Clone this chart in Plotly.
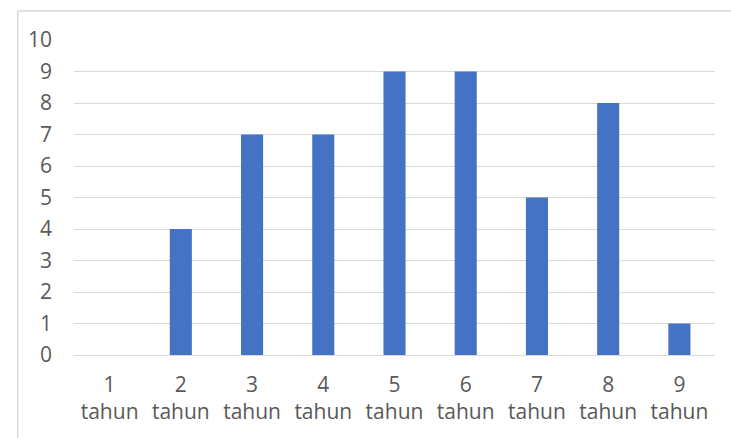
import plotly.graph_objects as go

# Respondents by length of service
categories = ["1<br>tahun", "2<br>tahun", "3<br>tahun", "4<br>tahun", "5<br>tahun",
              "6<br>tahun", "7<br>tahun", "8<br>tahun", "9<br>tahun"]
values = [0, 4, 7, 7, 9, 9, 5, 8, 1]
y_ticks = list(range(0, 11))

BAR_COLOR = "#4472C4"
TEXT_COLOR = "#595959"
GRID_COLOR = "#D9D9D9"
FONT = "Open Sans, sans-serif"

fig = go.Figure(
    go.Bar(x=categories, y=values, marker=dict(color=BAR_COLOR, line=dict(width=0)))
)

fig.update_layout(
    width=731,
    height=438,
    margin=dict(l=74, r=16, t=40, b=83),
    paper_bgcolor="white",
    plot_bgcolor="white",
    bargap=0.69,
    showlegend=False,
    font=dict(family=FONT, size=21, color=TEXT_COLOR),
    shapes=[
        # outer chart frame
        dict(type="line", xref="paper", yref="paper",
             x0=-0.0878, x1=1.05, y0=1.092, y1=1.092,
             line=dict(color=GRID_COLOR, width=1.5)),
        dict(type="line", xref="paper", yref="paper",
             x0=-0.0878, x1=-0.0878, y0=1.092, y1=-0.3,
             line=dict(color=GRID_COLOR, width=1.5)),
    ],
)

fig.update_xaxes(
    showgrid=False,
    showline=False,
    zeroline=False,
    ticks="",
    tickfont=dict(family=FONT, size=21, color=TEXT_COLOR),
    ticklabelstandoff=15,
)
fig.update_yaxes(
    range=[0, 10],
    tickvals=y_ticks,
    showgrid=True,
    gridcolor=GRID_COLOR,
    gridwidth=1,
    zeroline=True,
    zerolinecolor=GRID_COLOR,
    zerolinewidth=1,
    showline=False,
    ticks="",
    tickfont=dict(family=FONT, size=21, color=TEXT_COLOR),
    ticklabelstandoff=21,
)

fig.write_html("out.html")
